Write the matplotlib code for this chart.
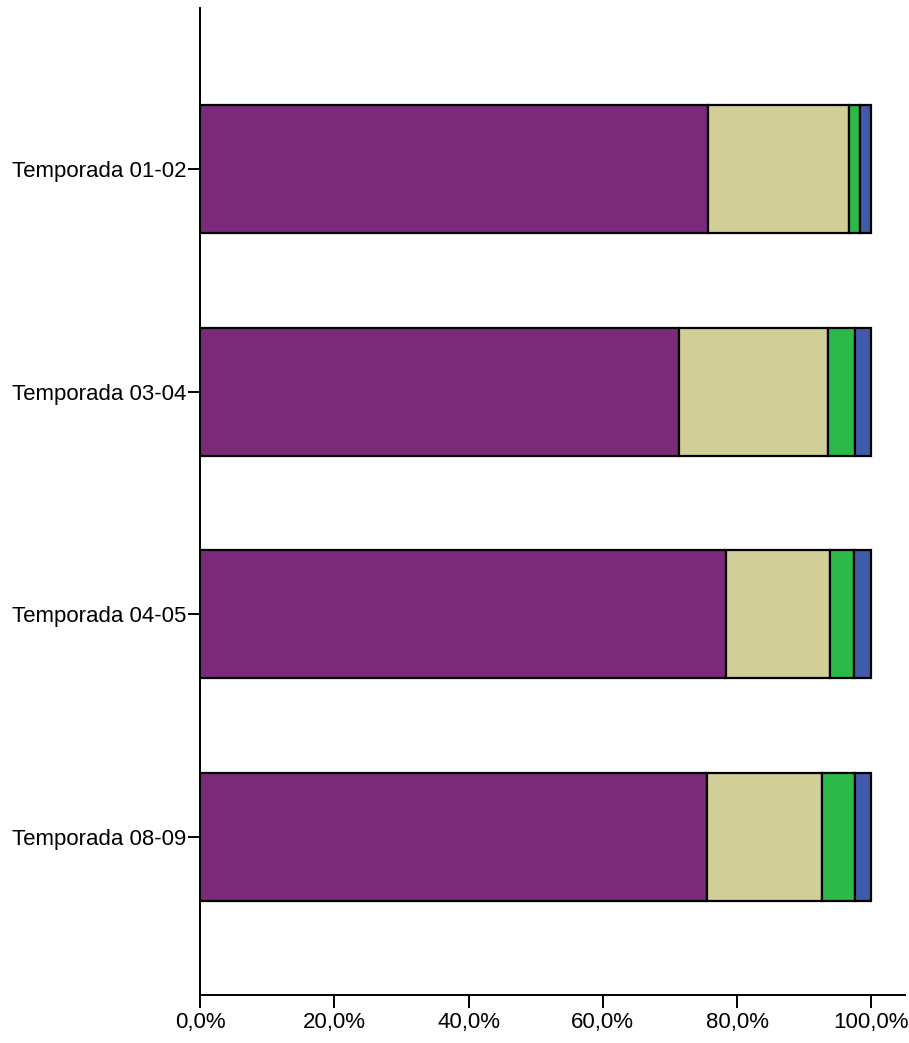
import matplotlib.pyplot as plt
import numpy as np
from matplotlib.ticker import FuncFormatter

plt.rcParams['font.family'] = ['Liberation Sans', 'DejaVu Sans']

temporadas = ['Temporada 01-02', 'Temporada 03-04', 'Temporada 04-05', 'Temporada 08-09']
purpura = [75.7, 71.3, 78.3, 75.5]
beige = [21.0, 22.2, 15.5, 17.2]
verde = [1.6, 4.1, 3.6, 4.9]
azul = [1.7, 2.4, 2.6, 2.4]

colores = ['#7B2A7A', '#D2CE98', '#2DB84A', '#3F5BAA']

fig = plt.figure(figsize=(9.09, 10.43), dpi=100)
ax = fig.add_axes([200 / 909, 48 / 1043, 705 / 909, 987 / 1043])

y = np.arange(len(temporadas))
izq = np.zeros(len(temporadas))
for serie, color in zip([purpura, beige, verde, azul], colores):
    ax.barh(y, serie, left=izq, height=0.575, color=color,
            edgecolor='black', linewidth=1.6)
    izq = izq + np.array(serie)

ax.set_xlim(0, 105)
ax.set_ylim(3.71, -0.725)
ax.set_yticks(y)
ax.set_yticklabels(temporadas)
ax.set_xticks([0, 20, 40, 60, 80, 100])
ax.xaxis.set_major_formatter(FuncFormatter(lambda v, p: f'{v:.1f}%'.replace('.', ',')))

for s in ['top', 'right']:
    ax.spines[s].set_visible(False)
for s in ['left', 'bottom']:
    ax.spines[s].set_linewidth(1.4)
ax.tick_params(axis='both', length=9, width=1.4, labelsize=16)
ax.tick_params(axis='y', pad=1)
ax.tick_params(axis='x', pad=3)

fig.savefig('out.png', dpi=100)
